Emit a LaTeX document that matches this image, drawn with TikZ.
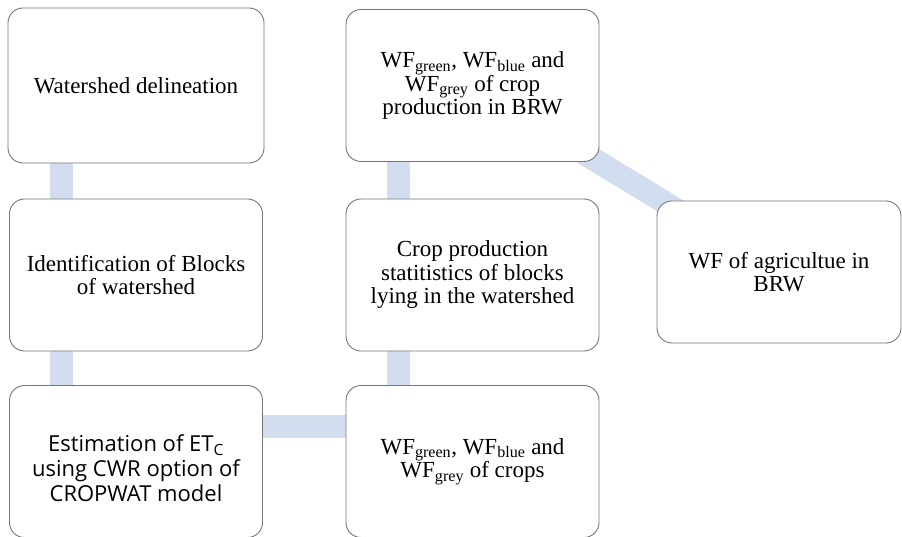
\documentclass[tikz,border=0pt]{standalone}
\usepackage{fontspec}
\setmainfont{Liberation Serif}
\newfontfamily\boxsans{Open Sans}
\usetikzlibrary{backgrounds}
\definecolor{linkblue}{RGB}{210,222,239}
\definecolor{boxgrey}{RGB}{118,118,118}
\newcommand\tightlines{\setlength{\lineskiplimit}{0pt}\setlength{\lineskip}{0pt}}
\begin{document}
\begin{tikzpicture}[x=1pt, y=-1pt,
        box/.style={draw=boxgrey, line width=0.9pt, fill=white, rounded corners=15pt,
            minimum width=253pt, minimum height=152pt, align=center,
            font=\fontsize{23}{23.5}\selectfont\tightlines},
        link/.style={draw=linkblue, line width=23pt}]
            \useasboundingbox (0, 0) rectangle (902, 537);
            \node[box, minimum width=256pt, minimum height=155pt] (delin) at (136, 85.5) {Watershed delineation};
            \node[box] (blocks) at (136, 275) {Identification of Blocks\\of watershed};
            \node[box, font=\boxsans\fontsize{22}{25}\selectfont] (etc) at (136, 461.5) {\rule{0pt}{31pt}Estimation of ET\textsubscript{C}\\using CWR option of\\CROPWAT model};
            \node[box] (wfbrw) at (472.5, 85.5) {WF\textsubscript{green}, WF\textsubscript{blue} and\\WF\textsubscript{grey} of crop\\production in BRW};
            \node[box] (stats) at (472.5, 275) {Crop production\\statitistics of blocks\\lying in the watershed};
            \node[box] (wfcrop) at (472.5, 461.5) {WF\textsubscript{green}, WF\textsubscript{blue} and\\WF\textsubscript{grey} of crops};
            \node[box, minimum width=244pt, minimum height=142pt] (wfagri) at (779, 272) {WF of agricultue in\\BRW};

            \begin{scope}[on background layer]
            \draw[link] ([xshift=-74.5pt]delin.center) -- ([xshift=-74.5pt]etc.center);
            \draw[link] ([xshift=-74.5pt]wfbrw.center) -- ([xshift=-74.5pt]wfcrop.center);
            \draw[link] ([yshift=35.5pt]etc.center) -- ([yshift=35.5pt]wfcrop.center);
            \draw[link] (wfbrw.center) -- (wfagri.center);
            \end{scope}
        \end{tikzpicture}
\end{document}
